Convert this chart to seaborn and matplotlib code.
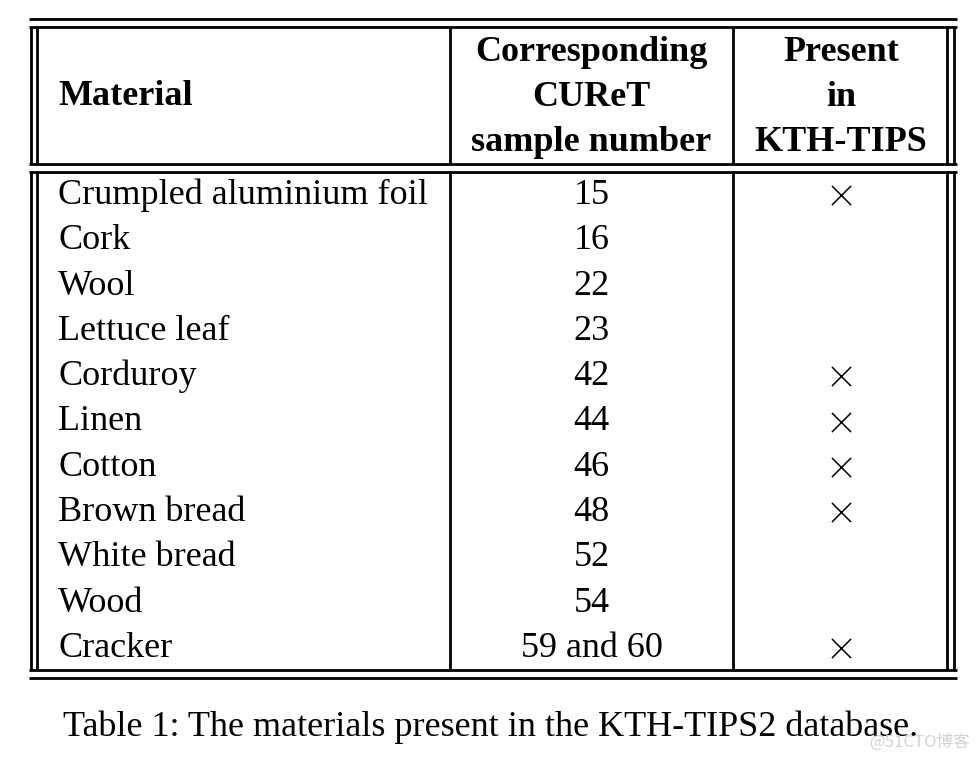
import matplotlib.pyplot as plt
import seaborn as sns

# ── Table data ──────────────────────────────────────────────
materials = ['Crumpled aluminium foil', 'Cork', 'Wool', 'Lettuce leaf',
             'Corduroy', 'Linen', 'Cotton', 'Brown bread', 'White bread',
             'Wood', 'Cracker']
cur_samples = ['15', '16', '22', '23', '42', '44', '46', '48', '52', '54',
               '59 and 60']
in_kth_tips = [True, False, False, False, True, True, True, True, False,
               False, True]
header_mat = ['Material']
header_cur = ['Corresponding', 'CUReT', 'sample number']
header_kth = ['Present', 'in', 'KTH-TIPS']
caption = 'Table 1: The materials present in the KTH-TIPS2 database.'

sns.set_theme(style='white')
plt.rcParams['font.family'] = ['Liberation Serif', 'DejaVu Serif']
plt.rcParams['text.color'] = 'black'

fig = plt.figure(figsize=(9.8, 7.59), dpi=100)
ax = fig.add_axes([0, 0, 1, 1])
ax.set_xlim(0, 980)
ax.set_ylim(759, 0)
ax.axis('off')

# ── Grid layout (pixels) ────────────────────────────────────
x_left, x_right = 29, 957
v_outer = [31, 37, 947, 954]
v_cols = [450, 733]
head_top, head_bot = 27, 164
body_top, body_bot = 172, 670
row_h = 45.3
lw = 2.0

for y in [19, head_top, head_bot, body_top, body_bot, 678]:
    ax.plot([x_left, x_right], [y, y], color='black', lw=lw,
            solid_capstyle='butt')
for x in v_outer + v_cols:
    ax.plot([x, x], [head_top, head_bot], color='black', lw=lw,
            solid_capstyle='butt')
    ax.plot([x, x], [body_top, body_bot], color='black', lw=lw,
            solid_capstyle='butt')

fs = 26
c2 = (v_cols[0] + v_cols[1]) / 2
c3 = (v_cols[1] + v_outer[2]) / 2 + 1

ax.text(58, 105, header_mat[0], fontsize=fs, fontweight='bold',
        ha='left', va='baseline')
for j, (h2, h3) in enumerate(zip(header_cur, header_kth)):
    yb = 61 + j * 45
    ax.text(c2, yb, h2, fontsize=fs, fontweight='bold', ha='center',
            va='baseline')
    ax.text(c3, yb, h3, fontsize=fs, fontweight='bold', ha='center',
            va='baseline')

for i, (mat, num) in enumerate(zip(materials, cur_samples)):
    yb = 204 + i * row_h
    ax.text(58, yb, mat, fontsize=fs, ha='left', va='baseline')
    ax.text(c2, yb, num, fontsize=fs, ha='center', va='baseline')

rows_x = [i for i, f in enumerate(in_kth_tips) if f]
ax.scatter([c3] * len(rows_x), [195 + i * row_h for i in rows_x],
           marker='x', s=190, color='black', linewidths=1.1)

ax.text(63, 736, caption, fontsize=fs, ha='left', va='baseline')
ax.text(970, 742, '@51CTO博客', fontsize=12, color='#d4d4d4',
        ha='right', va='center',
        family=['Noto Sans CJK SC', 'DejaVu Sans'])

fig.savefig('out.png', dpi=100)
